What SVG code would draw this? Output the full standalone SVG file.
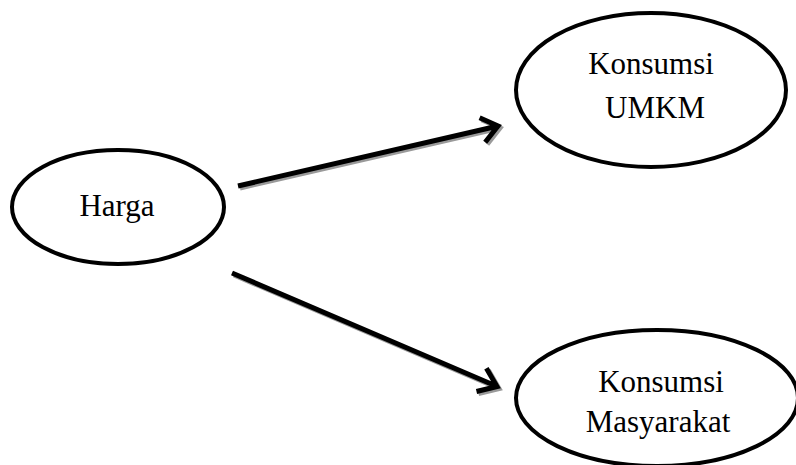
<svg xmlns="http://www.w3.org/2000/svg" width="796" height="465" viewBox="0 0 796 465">
<style>
.node{fill:#fff;stroke:#000;stroke-width:4}
.lbl{font-family:"Liberation Serif","Times New Roman",serif;font-size:31px;fill:#000;text-anchor:middle}
.arr{fill:none;stroke:#000;stroke-width:5;stroke-linejoin:miter}
.shd{fill:none;stroke:#9a9a9a;stroke-width:5;stroke-linejoin:miter}
</style>
<rect width="796" height="465" fill="#fff"/>
<g id="connectors">
<g transform="translate(2,2)">
<path class="shd" d="M238,186 L498,126 M479.6,117.7 L498,126 L485.2,142.3"/>
<path class="shd" d="M232,273 L496,386 M486.4,368.3 L497,386.5 L476.5,391.5"/>
</g>
<path class="arr" d="M238,186 L498,126 M479.6,117.7 L498,126 L485.2,142.3"/>
<path class="arr" d="M232,273 L496,386 M486.4,368.3 L497,386.5 L476.5,391.5"/>
</g>
<g id="harga">
<ellipse class="node" cx="118" cy="207" rx="106" ry="57"/>
<text class="lbl" x="117" y="216">Harga</text>
</g>
<g id="umkm">
<ellipse class="node" cx="651" cy="90" rx="135" ry="77"/>
<text class="lbl" x="651" y="74">Konsumsi</text>
<text class="lbl" x="655" y="118">UMKM</text>
</g>
<g id="masyarakat">
<ellipse class="node" cx="657" cy="398" rx="141" ry="68"/>
<text class="lbl" x="661" y="392">Konsumsi</text>
<text class="lbl" x="658" y="432">Masyarakat</text>
</g>
</svg>
